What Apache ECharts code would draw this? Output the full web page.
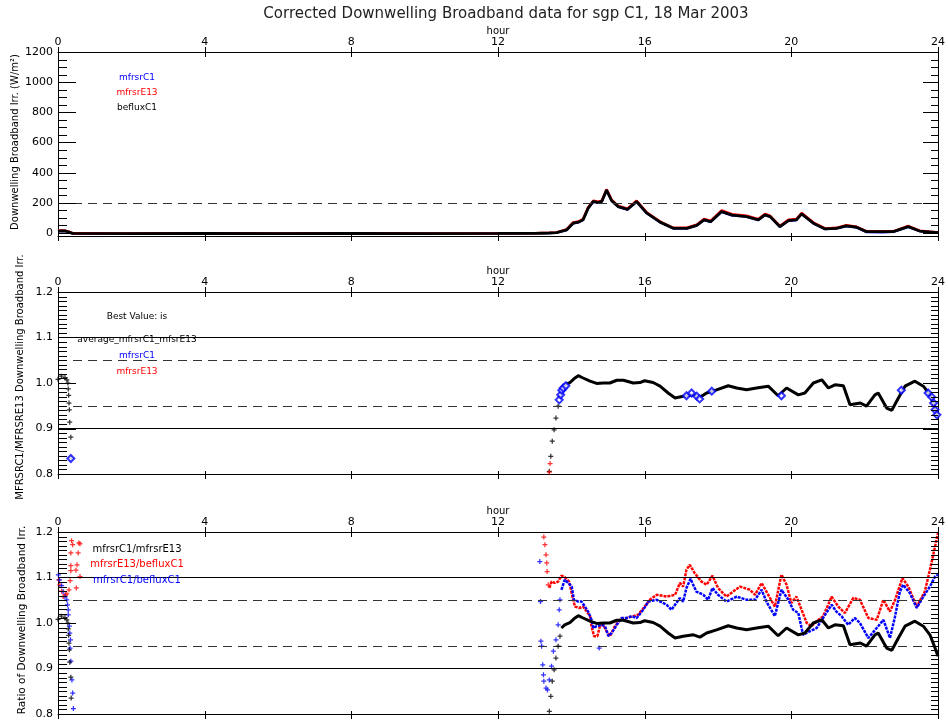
<!DOCTYPE html>
<html><head><meta charset="utf-8">
<script src="https://cdn.jsdelivr.net/npm/echarts@6/dist/echarts.min.js"></script>
<style>html,body{margin:0;padding:0;background:#fff}#c{width:948px;height:721px}</style>
</head><body><div id="c"></div>
<script>
// ---------- tick labels ----------
const hourTicks = [0, 4, 8, 12, 16, 20, 24];
const fluxTicks = [0, 200, 400, 600, 800, 1000, 1200];
const ratioTicks = [0.8, 0.9, 1.0, 1.1, 1.2];

// ---------- reference lines ----------
const fluxDashed = [200];
const ratioSolid = [0.9, 1.1];
const ratioDashed = [0.95, 1.05];

// ---------- panel 1: irradiance (W/m^2) ----------
const befluxC1 = [[0,12],[0.1,14],[0.2,13],[0.3,6],[0.4,-3],[2,-4],[4,-3],[6,-4],[8,-3],[10,-4],[12,-3],[13,-2],[13.4,0],[13.6,2],[13.87,20],[14.05,65],[14.2,72],[14.32,87],[14.46,165],[14.6,209],[14.73,202],[14.83,209],[14.96,284],[15.1,214],[15.28,175],[15.53,156],[15.78,209],[16.05,133],[16.42,72],[16.78,31],[17.15,31],[17.42,50],[17.62,87],[17.8,75],[18.1,142],[18.38,118],[18.78,109],[19.1,87],[19.28,120],[19.42,109],[19.69,42],[19.92,82],[20.14,87],[20.28,127],[20.6,65],[20.92,27],[21.23,31],[21.5,47],[21.78,38],[22.05,9],[22.78,9],[23.19,42],[23.5,13],[24,2]];
const mfrsrE13Flux = [[0,15],[0.1,17],[0.2,15],[0.3,8],[0.4,-2],[2,-3],[4,-2],[6,-3],[8,-2],[10,-3],[12,-2],[13,-1],[13.4,1],[13.6,4],[13.87,24],[14.05,70],[14.2,77],[14.32,92],[14.46,171],[14.6,214],[14.73,207],[14.83,214],[14.96,289],[15.1,220],[15.28,180],[15.53,161],[15.78,214],[16.05,138],[16.42,76],[16.78,34],[17.15,35],[17.42,55],[17.62,93],[17.8,80],[18.1,150],[18.38,125],[18.78,115],[19.1,92],[19.28,126],[19.42,114],[19.69,46],[19.92,87],[20.14,92],[20.28,133],[20.6,69],[20.92,30],[21.23,34],[21.5,51],[21.78,41],[22.05,11],[22.78,11],[23.19,46],[23.5,15],[24,4]];
const mfrsrC1Flux = [[0,11],[0.1,13],[0.2,12],[0.3,5],[0.4,-4],[4,-4],[8,-4],[12,-4],[13.4,-1],[13.6,1],[13.87,18],[14.05,63],[14.2,70],[14.32,85],[14.46,163],[14.6,206],[14.73,200],[14.83,206],[14.96,280],[15.1,212],[15.28,172],[15.53,154],[15.78,206],[16.05,131],[16.42,70],[16.78,29],[17.15,29],[17.42,48],[17.62,85],[17.8,73],[18.1,139],[18.38,116],[18.78,107],[19.1,85],[19.28,118],[19.42,107],[19.69,40],[19.92,80],[20.14,85],[20.28,125],[20.6,63],[20.92,25],[21.23,29],[21.5,45],[21.78,36],[22.05,5],[22.5,3],[22.78,6],[23.19,40],[23.5,11],[24,0]];

// ---------- panel 2/3: mfrsrC1/mfrsrE13 ----------
const ratioC1E13Sparse = [[0,1.008],[0.09,1.015],[0.19,1.012],[0.24,1.007],[0.27,1.0],[0.28,0.987],[0.29,0.973],[0.3,0.956],[0.31,0.941],[0.32,0.914],[0.35,0.881],[0.36,0.835],[13.4,0.806],[13.44,0.839],[13.48,0.872],[13.53,0.897],[13.58,0.923],[13.64,0.949],[13.69,0.971]];
const ratioC1E13 = [[13.73,0.989],[13.82,0.996],[13.96,1.001],[14.1,1.011],[14.19,1.016],[14.32,1.011],[14.51,1.004],[14.69,0.999],[14.87,1.0],[15.05,1.0],[15.24,1.006],[15.42,1.006],[15.69,1.0],[15.87,1.001],[16.0,1.005],[16.23,1.001],[16.42,0.993],[16.64,0.978],[16.83,0.967],[17.05,0.971],[17.33,0.974],[17.51,0.969],[17.69,0.978],[17.96,0.985],[18.28,0.994],[18.51,0.989],[18.78,0.985],[19.05,0.989],[19.37,0.993],[19.64,0.972],[19.87,0.989],[20.19,0.974],[20.37,0.978],[20.6,1.0],[20.83,1.007],[21.01,0.989],[21.19,0.996],[21.42,0.994],[21.6,0.952],[21.88,0.956],[22.05,0.949],[22.28,0.974],[22.37,0.978],[22.6,0.945],[22.74,0.94],[22.92,0.967],[23.1,0.993],[23.37,1.004],[23.6,0.993],[23.78,0.974],[23.92,0.945],[24.0,0.927]];
const bestC1 = [[0.35,0.834],[13.67,0.963],[13.71,0.974],[13.74,0.984],[13.78,0.989],[13.85,0.994],[17.14,0.972],[17.28,0.978],[17.42,0.971],[17.5,0.965],[17.83,0.982],[19.73,0.972],[23.0,0.984],[23.73,0.978],[23.83,0.969],[23.88,0.956],[23.92,0.941],[23.97,0.93]];
const bestE13 = [[13.4,0.804],[13.42,0.823]];

// ---------- panel 3: mfrsrE13/befluxC1 ----------
const ratioE13BfSparse = [[0.02,1.095],[0.05,1.084],[0.1,1.07],[0.14,1.058],[0.2,1.062],[0.24,1.064],[0.3,1.073],[0.33,1.093],[0.35,1.115],[0.35,1.126],[0.35,1.154],[0.37,1.181],[0.4,1.172],[0.49,1.116],[0.5,1.077],[0.52,1.128],[0.55,1.154],[0.57,1.176],[0.6,1.102],[0.6,1.174],[13.25,1.189],[13.28,1.172],[13.31,1.15],[13.33,1.132],[13.34,1.113],[13.37,1.084]];
const ratioE13Bf = [[13.4,1.077],[13.46,1.091],[13.55,1.088],[13.64,1.091],[13.73,1.104],[13.82,1.101],[13.94,1.091],[14.05,1.051],[14.1,1.036],[14.22,1.033],[14.32,1.036],[14.42,1.025],[14.51,1.015],[14.55,0.993],[14.62,0.971],[14.71,0.971],[14.78,0.993],[14.87,0.996],[14.96,0.982],[15.05,0.971],[15.19,0.993],[15.33,1.007],[15.51,1.011],[15.69,1.015],[15.82,1.018],[16.0,1.036],[16.14,1.051],[16.33,1.062],[16.6,1.058],[16.83,1.062],[16.96,1.088],[17.05,1.080],[17.14,1.117],[17.23,1.128],[17.36,1.110],[17.55,1.091],[17.69,1.084],[17.85,1.104],[18.0,1.077],[18.23,1.058],[18.41,1.069],[18.6,1.080],[18.87,1.073],[19.01,1.062],[19.19,1.088],[19.37,1.062],[19.55,1.036],[19.73,1.106],[19.87,1.084],[20.0,1.044],[20.14,1.058],[20.28,1.029],[20.42,1.0],[20.55,0.993],[20.69,1.004],[20.87,1.015],[21.1,1.058],[21.28,1.036],[21.46,1.022],[21.69,1.055],[21.87,1.051],[22.1,1.011],[22.33,1.007],[22.51,1.051],[22.69,1.025],[22.83,1.051],[23.03,1.099],[23.19,1.080],[23.42,1.036],[23.64,1.069],[23.78,1.117],[23.92,1.168],[24.0,1.198]];

// ---------- panel 3: mfrsrC1/befluxC1 ----------
const ratioC1BfSparse = [[0.01,1.106],[0.04,1.095],[0.1,1.082],[0.14,1.069],[0.19,1.058],[0.24,1.051],[0.26,1.04],[0.28,1.029],[0.28,1.018],[0.31,0.993],[0.32,0.978],[0.34,0.963],[0.33,0.945],[0.35,0.916],[0.38,0.875],[0.4,0.846],[0.42,0.812],[13.14,1.135],[13.16,1.047],[13.17,0.96],[13.19,0.949],[13.22,0.908],[13.24,0.886],[13.25,0.872],[13.31,0.857],[13.35,0.853],[13.4,0.875],[13.46,0.905],[13.51,0.938],[13.58,0.963],[13.64,0.996],[13.67,1.029],[13.69,1.051],[14.76,0.945]];
const ratioC1Bf = [[13.73,1.073],[13.82,1.095],[13.92,1.088],[14.01,1.080],[14.07,1.051],[14.19,1.047],[14.28,1.047],[14.37,1.036],[14.46,1.025],[14.55,1.007],[14.6,0.989],[14.69,0.993],[14.83,0.996],[14.92,0.993],[15.01,0.971],[15.1,0.978],[15.24,0.996],[15.37,1.011],[15.51,1.011],[15.65,1.015],[15.78,1.011],[15.96,1.029],[16.1,1.047],[16.33,1.051],[16.6,1.04],[16.73,1.029],[16.96,1.055],[17.05,1.047],[17.14,1.077],[17.25,1.097],[17.41,1.069],[17.6,1.062],[17.73,1.051],[17.85,1.077],[18.0,1.062],[18.23,1.047],[18.51,1.058],[18.78,1.051],[19.01,1.051],[19.19,1.073],[19.32,1.047],[19.55,1.015],[19.73,1.073],[19.92,1.051],[20.05,1.029],[20.19,1.022],[20.32,0.974],[20.51,0.982],[20.69,0.989],[20.92,1.018],[21.1,1.040],[21.23,1.025],[21.37,1.015],[21.55,0.996],[21.73,1.011],[21.87,1.0],[22.1,0.967],[22.37,0.993],[22.51,1.007],[22.69,0.967],[22.83,1.015],[22.96,1.069],[23.05,1.084],[23.23,1.066],[23.42,1.033],[23.6,1.058],[23.78,1.080],[23.92,1.102],[24.0,1.106]];

// ---------- layout / styles ----------
const FONT = 'DejaVu Sans';
const BLUE = '#0000ff', RED = '#ff0000', BLACK = '#000000';
const PLUS = 'path://M-1,-4H1V-1H4V1H1V4H-1V1H-4V-1H-1Z';
const FLUX_MIN = -20, FLUX_MAX = 1200;
const X_MIN = 0, X_MAX = 24;
const TICK_W = 1;
const grids = [
  {left: 58, right: 10, top: 52, height: 184},
  {left: 58, right: 10, top: 292, height: 182},
  {left: 58, right: 10, top: 532, height: 182}
];
const lblStyle = {color: BLACK, fontFamily: FONT, fontSize: 11};
const panelY = [
  {min: FLUX_MIN, max: FLUX_MAX, majors: fluxTicks, minorStep: 50, fmt: v => String(Math.round(v))},
  {min: ratioTicks[0], max: ratioTicks[ratioTicks.length - 1], majors: ratioTicks, minorStep: 0.01, fmt: v => v.toFixed(1)},
  {min: ratioTicks[0], max: ratioTicks[ratioTicks.length - 1], majors: ratioTicks, minorStep: 0.01, fmt: v => v.toFixed(1)}
];

const xAxis = [], yAxis = [];
[0, 1, 2].forEach(gi => {
  xAxis.push({gridIndex: gi, type: 'value', position: 'top', min: X_MIN, max: X_MAX, interval: 4,
    axisLine: {show: true, onZero: false, lineStyle: {color: BLACK, width: 1}},
    axisTick: {show: false},
    axisLabel: Object.assign({margin: 4, formatter: v => String(v)}, lblStyle),
    splitLine: {show: false},
    name: 'hour', nameLocation: 'middle', nameGap: 15,
    nameTextStyle: {color: BLACK, fontFamily: FONT, fontSize: 10}});
  xAxis.push({gridIndex: gi, type: 'value', position: 'bottom', min: X_MIN, max: X_MAX, interval: 4,
    axisLine: {show: true, onZero: false, lineStyle: {color: BLACK, width: 1}},
    axisTick: {show: false}, axisLabel: {show: false}, splitLine: {show: false}});
  const p = panelY[gi];
  yAxis.push({gridIndex: gi, type: 'value', position: 'left', min: p.min, max: p.max,
    axisLine: {show: true, onZero: false, lineStyle: {color: BLACK, width: 1}},
    axisTick: {show: false},
    axisLabel: Object.assign({margin: 5, customValues: p.majors, formatter: p.fmt}, lblStyle),
    splitLine: {show: false}});
  yAxis.push({gridIndex: gi, type: 'value', position: 'right', min: p.min, max: p.max,
    axisLine: {show: true, onZero: false, lineStyle: {color: BLACK, width: 1}},
    axisTick: {show: false}, axisLabel: {show: false}, splitLine: {show: false}});
});

function tickValues(gi) {
  const p = panelY[gi];
  const out = [];
  const start = Math.ceil(p.min / p.minorStep - 1e-6);
  const end = Math.floor(p.max / p.minorStep + 1e-6);
  for (let i = start; i <= end; i++) {
    const v = +(i * p.minorStep).toFixed(4);
    out.push({v: v, major: p.majors.some(m => Math.abs(m - v) < 1e-6)});
  }
  return out;
}

function refLines(solid, dashed) {
  const d = [];
  solid.forEach(v => d.push({yAxis: v, lineStyle: {type: 'solid', color: BLACK, width: 1}}));
  dashed.forEach(v => d.push({yAxis: v, lineStyle: {type: [9, 6], color: '#333', width: 1}}));
  return {silent: true, symbol: ['none', 'none'], label: {show: false}, animation: false, data: d};
}
function lineS(gi, name, data, color, width, z, extra) {
  return Object.assign({type: 'line', name: name, xAxisIndex: 2 * gi, yAxisIndex: 2 * gi, data: data,
    showSymbol: false, symbol: 'none', lineStyle: {color: color, width: width}, itemStyle: {color: color},
    z: z, animation: false, clip: true}, extra || {});
}
function scatS(gi, name, data, color, symbol, size, z, extra) {
  return Object.assign({type: 'scatter', name: name, xAxisIndex: 2 * gi, yAxisIndex: 2 * gi, data: data,
    symbol: symbol, symbolSize: size, itemStyle: {color: color}, z: z, animation: false, clip: true}, extra || {});
}

const series = [
  // panel 1 (series 0-2)
  lineS(0, 'mfrsrC1', mfrsrC1Flux, BLUE, 2, 2, {markLine: refLines([], fluxDashed)}),
  lineS(0, 'mfrsrE13', mfrsrE13Flux, RED, 2.5, 3),
  lineS(0, 'befluxC1', befluxC1, BLACK, 2.8, 4),
  // panel 2 (series 3-6)
  lineS(1, 'average_mfrsrC1_mfsrE13', ratioC1E13, BLACK, 3, 3, {markLine: refLines(ratioSolid, ratioDashed)}),
  scatS(1, 'average sparse', ratioC1E13Sparse, BLACK, PLUS, 5, 3),
  scatS(1, 'mfrsrC1', bestC1, BLUE, 'emptyDiamond', 7, 4, {itemStyle: {color: BLUE, borderColor: BLUE, borderWidth: 1}}),
  scatS(1, 'mfrsrE13', bestE13, RED, PLUS, 5, 4),
  // panel 3 (series 7-12)
  lineS(2, 'mfrsrE13/befluxC1', ratioE13Bf, RED, 2.5, 3, {lineStyle: {color: RED, width: 2.5, type: [3, 1]}, markLine: refLines(ratioSolid, ratioDashed)}),
  scatS(2, 'mfrsrE13/befluxC1 sparse', ratioE13BfSparse, RED, PLUS, 5, 3),
  lineS(2, 'mfrsrC1/befluxC1', ratioC1Bf, BLUE, 2.5, 4, {lineStyle: {color: BLUE, width: 2.5, type: [3, 1]}}),
  scatS(2, 'mfrsrC1/befluxC1 sparse', ratioC1BfSparse, BLUE, PLUS, 5, 4),
  lineS(2, 'mfrsrC1/mfrsrE13', ratioC1E13, BLACK, 3, 5),
  scatS(2, 'mfrsrC1/mfrsrE13 sparse', ratioC1E13Sparse, BLACK, PLUS, 5, 5)
];
const panelSeriesIndex = [0, 3, 7];

function txt(x, y, text, color, size, rot) {
  return {type: 'text', x: x, y: y, rotation: rot || 0, z: 100, silent: true,
    style: {text: text, fill: color, font: size + 'px "' + FONT + '"', align: 'center', verticalAlign: 'middle',
      textAlign: 'center', textVerticalAlign: 'middle'}};
}
function seg(x1, y1, x2, y2) {
  return {type: 'line', silent: true, z: 60, shape: {x1: x1, y1: y1, x2: x2, y2: y2},
    style: {stroke: BLACK, lineWidth: TICK_W, opacity: 1}};
}
const R = Math.PI / 2;
const texts = [
  txt(506, 14, 'Corrected Downwelling Broadband data for sgp C1, 18 Mar 2003', '#222', 15),
  txt(15, 142, 'Downwelling Broadband Irr. (W/m²)', BLACK, 10, R),
  txt(20, 377, 'MFRSRC1/MFRSRE13 Downwelling Broadband Irr.', BLACK, 10, R),
  txt(22, 620, 'Ratio of Downwelling Broadband Irr.', BLACK, 10.5, R),
  txt(137, 78, 'mfrsrC1', BLUE, 9),
  txt(137, 93, 'mfrsrE13', RED, 9),
  txt(137, 108, 'befluxC1', BLACK, 9),
  txt(137, 317, 'Best Value: is', BLACK, 9),
  txt(137, 340, 'average_mfrsrC1_mfsrE13', BLACK, 9),
  txt(137, 356, 'mfrsrC1', BLUE, 9),
  txt(137, 372, 'mfrsrE13', RED, 9),
  txt(137, 549, 'mfrsrC1/mfrsrE13', BLACK, 10),
  txt(137, 564, 'mfrsrE13/befluxC1', RED, 10),
  txt(137, 580, 'mfrsrC1/befluxC1', BLUE, 10)
];

const chart = echarts.init(document.getElementById('c'), null, {renderer: 'canvas'});
chart.setOption({backgroundColor: '#fff', animation: false, grid: grids, xAxis: xAxis, yAxis: yAxis, series: series, graphic: texts});

// tick marks, positioned through the series' coordinate systems
const ticks = [];
[0, 1, 2].forEach(gi => {
  const finder = {seriesIndex: panelSeriesIndex[gi]};
  const p = panelY[gi];
  tickValues(gi).forEach(t => {
    const L = chart.convertToPixel(finder, [X_MIN, t.v]);
    const Rr = chart.convertToPixel(finder, [X_MAX, t.v]);
    if (!L || !Rr) return;
    const y = Math.round(L[1]) + 0.5;
    const ll = t.major ? 18 : 9, lr = t.major ? 15 : 7;
    ticks.push(seg(L[0], y, L[0] + ll, y));
    ticks.push(seg(Rr[0], y, Rr[0] - lr, y));
  });
  hourTicks.forEach(h => {
    const T = chart.convertToPixel(finder, [h, p.max]);
    const B = chart.convertToPixel(finder, [h, p.min]);
    if (!T || !B) return;
    const x = Math.round(T[0]) + 0.5;
    ticks.push(seg(x, T[1] - 5, x, T[1] + 5));
    ticks.push(seg(x, B[1] - 3, x, B[1] + 5));
  });
});
chart.setOption({graphic: {elements: texts.concat(ticks)}});
</script></body></html>
